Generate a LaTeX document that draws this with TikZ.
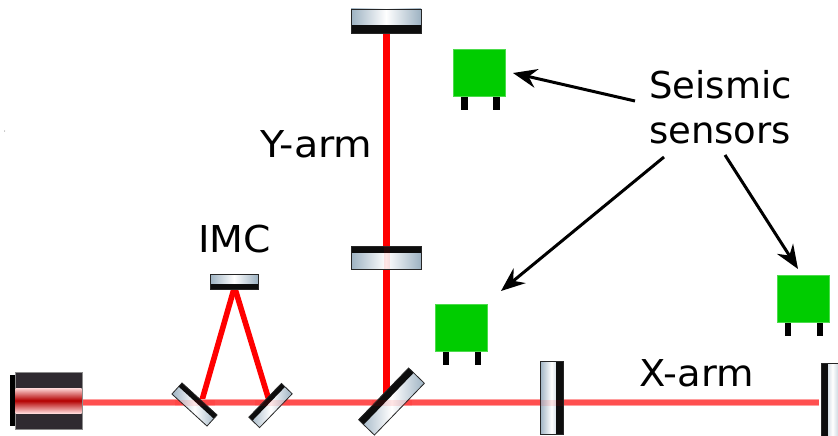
\documentclass[tikz,border=0pt]{standalone}
\usepackage{fontspec}
\setmainfont{DejaVu Sans}
\usetikzlibrary{arrows.meta}
\definecolor{glassend}{HTML}{9DB2C2}
\definecolor{beamh}{HTML}{FF4F4F}
\definecolor{beamv}{HTML}{FF0000}
\definecolor{sensorgreen}{HTML}{00CC00}
\definecolor{laserbody}{HTML}{2F2A30}
\tikzset{
  x=1pt,y=1pt,
  beamarm/.style={line width=6.6pt,color=beamv},
  beamimc/.style={line width=5.6pt,color=beamv},
  beamghost/.style={line width=6pt,color=beamv,opacity=0.10},
  pointer/.style={line width=3pt,color=black,-{Stealth[length=24pt,width=19pt,inset=8pt]}},
  label/.style={font=\fontsize{37}{44}\selectfont,inner sep=0pt,anchor=base west},
  sensorbox/.style={fill=sensorgreen,draw=sensorgreen!70!white,line width=.5pt,inner sep=0pt,minimum width=52pt,minimum height=47pt},
  legbar/.style={fill=black,draw=none}
}
% centre x, y, angle, length, thickness, band, name
\newcommand{\opticmirror}[7]{%
  \coordinate (#7) at (#1,#2);
  \begin{scope}[shift={(#1,#2)},rotate=#3]
    \shade[left color=glassend,right color=glassend,middle color=white]
      (-#4/2,-#5/2) rectangle (#4/2,#5/2);
    \fill[black!95] (-#4/2,#5/2-#6) rectangle (#4/2,#5/2);
    \draw[line width=.8pt,color=black!85] (-#4/2,-#5/2) rectangle (#4/2,#5/2);
  \end{scope}}
\newcommand{\sensorunit}[3]{%
  \fill[legbar] (#1-18.5,#2-23) rectangle ++(6.4,-14.4);
  \fill[legbar] (#1+13.5,#2-23) rectangle ++(6.4,-14.4);
  \node[sensorbox] (#3) at (#1,#2) {};}
\begin{document}
\begin{tikzpicture}
\useasboundingbox (0,-436) rectangle (838,0);
\clip (0,-436) rectangle (838,0);
\fill[white] (0,-436) rectangle (838,0);
% free beam ends
\coordinate (laserout) at (82,-402.6);
\coordinate (xend) at (819,-402.6);
\coordinate (ytop) at (386.5,-30);
\coordinate (ybot) at (386.5,-402);
\coordinate (imcapex) at (234.5,-287);
\coordinate (imcl) at (201.5,-402);
\coordinate (imcr) at (269.5,-402);
% beams
\draw[beamarm] (ytop) -- (ybot);
\draw[beamimc] (imcapex) -- (imcl);
\draw[beamimc] (imcapex) -- (imcr);
\draw[line width=7pt,color=beamh!55!white] (laserout) -- (xend);
\draw[line width=5.6pt,color=beamh] (laserout) -- (xend);
% laser
\node[fill=black,inner sep=0pt,minimum width=6pt,minimum height=51pt] (laserback) at (12.5,-400.5) {};
\node[fill=laserbody,draw=black!45,line width=.6pt,inner sep=0pt,minimum width=67pt,minimum height=57pt] (laser) at (48.5,-400.5) {};
\shade[top color=red!15!white,bottom color=red!15!white,middle color=red!70!black]
  (15.5,-388) rectangle (81.5,-413);
% optics
\opticmirror{386}{-21}{180}{70}{24}{8}{ymirrorend}
\opticmirror{386}{-257.5}{0}{70}{23}{7}{ymirrorin}
\opticmirror{234}{-281.5}{180}{48}{15}{5}{imctop}
\opticmirror{194.5}{-404.5}{-42.4}{47.5}{15}{5}{imcleft}
\opticmirror{270.5}{-405.5}{46}{47}{15}{5}{imcright}
\opticmirror{391.5}{-401.5}{46}{72}{22}{7}{bsplitter}
\opticmirror{551.5}{-397.5}{-90}{73}{23}{7}{xmirrorin}
\opticmirror{832.5}{-399.5}{90}{73}{23}{7}{xmirrorend}
% beams seen through the glass
\draw[beamghost] (386.5,-246) -- (386.5,-269);
\draw[beamghost] (175,-402.6) -- (215,-402.6);
\draw[beamghost] (255,-402.6) -- (290,-402.6);
\draw[beamghost] (372,-402.6) -- (412,-402.6);
\draw[beamghost] (540,-402.6) -- (563,-402.6);
% sensors
\sensorunit{479.7}{-72.3}{sensora}
\sensorunit{461}{-327.5}{sensorb}
\sensorunit{803}{-298.5}{sensorc}
% stray speck
\fill[black!60] (4.6,-131) circle (.5pt);
% labels
\node[label] (seismic) at (649,-98) {Seismic};
\node[label] (sensors) at (649,-143) {sensors};
\node[label,transform shape,xscale=1.07] (yarm) at (260,-157) {Y-arm};
\node[label,transform shape,xscale=1.06] (imc) at (198,-252) {IMC};
\node[label,transform shape,xscale=1.04] (xarm) at (639,-386) {X-arm};
% pointers
\coordinate (pa0) at (635,-101);
\coordinate (pa1) at (513,-73);
\coordinate (pb0) at (664,-157);
\coordinate (pb1) at (501,-291);
\coordinate (pc0) at (725,-155);
\coordinate (pc1) at (798,-269);
\draw[pointer] (pa0) -- (pa1);
\draw[pointer] (pb0) -- (pb1);
\draw[pointer] (pc0) -- (pc1);
\end{tikzpicture}
\end{document}
